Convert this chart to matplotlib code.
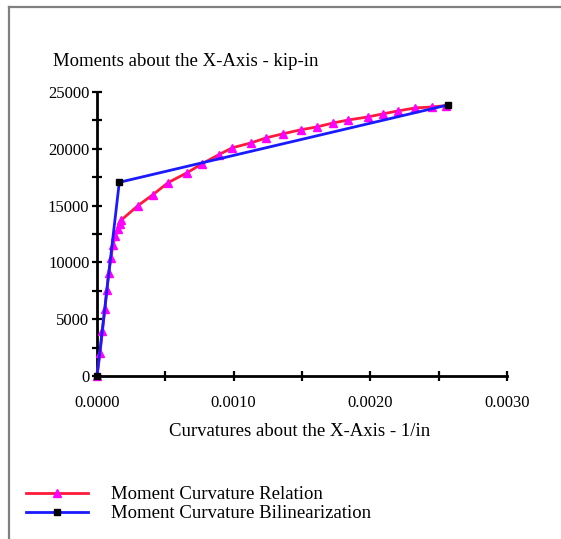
import matplotlib
matplotlib.use('Agg')
import matplotlib.pyplot as plt
from matplotlib.lines import Line2D
from matplotlib.ticker import MultipleLocator, FormatStrFormatter

plt.rcParams['font.family'] = ['Liberation Serif', 'DejaVu Serif']

# Moment curvature relation (curvature in 1/in, moment in kip-in)
curv_rel = [0.0, 0.000022, 0.000040, 0.000058, 0.000072, 0.000085, 0.000103,
            0.000115, 0.000135, 0.000155, 0.000165, 0.000175, 0.000300,
            0.000410, 0.000520, 0.000660, 0.000770, 0.000890, 0.000990,
            0.001130, 0.001240, 0.001360, 0.001490, 0.001610, 0.001730,
            0.001840, 0.001980, 0.002090, 0.002200, 0.002330, 0.002450,
            0.002550]
mom_rel = [0, 2000, 4000, 5900, 7600, 9100, 10400, 11500, 12300, 12900,
           13400, 13700, 15000, 15970, 17020, 17900, 18690, 19475, 20090,
           20530, 20970, 21320, 21670, 21930, 22280, 22540, 22800, 23070,
           23330, 23600, 23680, 23800]

# Bilinearization
curv_bil = [0.0, 0.000163, 0.002568]
mom_bil = [0, 17050, 23860]

labels = ['Moment Curvature Relation', 'Moment Curvature Bilinearization']

fig = plt.figure(figsize=(5.61, 5.39), dpi=100)
ax = fig.add_axes([97 / 561, 1 - 376 / 539, 410 / 561, 284 / 539])

l1, = ax.plot(curv_rel, mom_rel, color='#ff1a3c', lw=2, marker='^',
              markersize=6, markerfacecolor='#ff00ff', markeredgecolor='#ff00ff',
              clip_on=False, zorder=3)
l2, = ax.plot(curv_bil, mom_bil, color='#1a1aff', lw=2, marker='s',
              markersize=5, markerfacecolor='black', markeredgecolor='black',
              clip_on=False, zorder=4)

ax.set_xlim(0, 0.003)
ax.set_ylim(0, 25000)
for s in ['top', 'right']:
    ax.spines[s].set_visible(False)
for s in ['left', 'bottom']:
    ax.spines[s].set_linewidth(2)
    ax.spines[s].set_color('black')

ax.xaxis.set_major_locator(MultipleLocator(0.001))
ax.xaxis.set_minor_locator(MultipleLocator(0.0005))
ax.yaxis.set_major_locator(MultipleLocator(5000))
ax.yaxis.set_minor_locator(MultipleLocator(2500))
ax.xaxis.set_major_formatter(FormatStrFormatter('%.4f'))
ax.tick_params(which='both', direction='inout', length=7, width=1.6,
               colors='black', labelsize=12)
ax.tick_params(axis='x', pad=10)
ax.tick_params(axis='y', pad=2)

fig.text(53 / 561, 1 - 62 / 539, 'Moments about the X-Axis - kip-in',
         ha='left', va='center', fontsize=13.5)
fig.text(300 / 561, 1 - 431 / 539, 'Curvatures about the X-Axis - 1/in',
         ha='center', va='center', fontsize=13.5)

fig.legend([l1, l2], labels, loc='upper left',
           bbox_to_anchor=(11 / 561, 1 - 471 / 539), frameon=False,
           fontsize=13.5, handlelength=3.3, handletextpad=1.25,
           labelspacing=0.1, numpoints=1, borderpad=0.3)

# outer frame lines (top and left)
fig.add_artist(Line2D([9 / 561, 1], [1 - 7 / 539, 1 - 7 / 539],
                      color='#808080', lw=1.6))
fig.add_artist(Line2D([9 / 561, 9 / 561], [0, 1 - 7 / 539],
                      color='#808080', lw=1.6))

fig.savefig('out.png', dpi=100)
